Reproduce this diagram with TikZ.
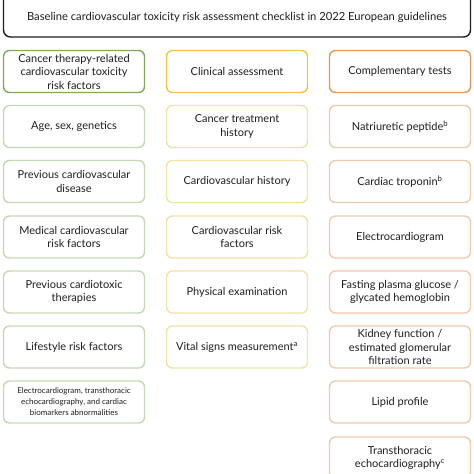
\documentclass[tikz,border=0pt]{standalone}
\usepackage{fontspec}
\setmainfont{Lato}
\usetikzlibrary{positioning}
\definecolor{chkInk}{HTML}{1E1E1E}
\definecolor{chkGreen}{HTML}{82A95A}
\definecolor{chkGreenLight}{HTML}{C6D8B3}
\definecolor{chkGold}{HTML}{F0C548}
\definecolor{chkGoldLight}{HTML}{F3E2A6}
\definecolor{chkOrange}{HTML}{E2975A}
\definecolor{chkOrangeLight}{HTML}{EFCBAD}
\tikzset{
  chkRisk/.style={draw=chkGreenLight},
  chkRiskHead/.style={draw=chkGreen},
  chkClinic/.style={draw=chkGoldLight},
  chkClinicHead/.style={draw=chkGold},
  chkTest/.style={draw=chkOrangeLight},
  chkTestHead/.style={draw=chkOrange}
}

\begin{document}
\begin{tikzpicture}[x=1pt,y=-1pt,
  box/.style={rounded corners=6pt,align=center,minimum width=141pt,
    minimum height=42pt,line width=1.4pt,font=\fontsize{11}{13.5}\selectfont,
    text=chkInk,inner sep=2pt},
  title/.style={draw=chkInk,rounded corners=7pt,line width=1.4pt,
    minimum width=467pt,minimum height=44pt,text=chkInk}]
\useasboundingbox (0,0) rectangle (474,474);
\node[title] (head) at (237,15) {};
\node[text=chkInk,font=\fontsize{11.2}{13}\selectfont] (headtext) at (237,17)
  {Baseline cardiovascular toxicity risk assessment checklist in 2022 European guidelines};
% risk factors
\node[box,chkRiskHead] (risk) at (74,71.5)
  {Cancer therapy-related\\cardiovascular toxicity\\risk factors};
\node[box,chkRisk] (age) at (74,126.5) {Age, sex, genetics};
\node[box,chkRisk] (prevcv) at (74,181.5) {Previous cardiovascular\\disease};
\node[box,chkRisk] (medcv) at (74,237) {Medical cardiovascular\\risk factors};
\node[box,chkRisk] (prevtox) at (74,292) {Previous cardiotoxic\\therapies};
\node[box,chkRisk] (life) at (74,347) {Lifestyle risk factors};
\node[box,chkRisk,font=\fontsize{8}{11}\selectfont] (abnorm) at (74,402)
  {Electrocardiogram, transthoracic\\echocardiography, and cardiac\\biomarkers abnormalities};
% clinical assessment
\node[box,chkClinicHead] (clinic) at (237,71.5) {Clinical assessment};
\node[box,chkClinic] (treat) at (237,126.5) {Cancer treatment\\history};
\node[box,chkClinic] (cvhist) at (237,181.5) {Cardiovascular history};
\node[box,chkClinic] (cvrisk) at (237,237) {Cardiovascular risk\\factors};
\node[box,chkClinic] (exam) at (237,292) {Physical examination};
\node[box,chkClinic] (vital) at (237,347) {Vital signs measurement\textsuperscript{a}};
% complementary tests
\node[box,chkTestHead] (tests) at (400,71.5) {Complementary tests};
\node[box,chkTest] (natri) at (400,126.5) {Natriuretic peptide\textsuperscript{b}};
\node[box,chkTest] (tropo) at (400,181.5) {Cardiac troponin\textsuperscript{b}};
\node[box,chkTest] (ecg) at (400,237) {Electrocardiogram};
\node[box,chkTest] (gluc) at (400,292) {Fasting plasma glucose /\\glycated hemoglobin};
\node[box,chkTest] (kidney) at (400,347)
  {Kidney function /\\estimated glomerular\\filtration rate};
\node[box,chkTest] (lipid) at (400,402) {Lipid profile};
\node[box,chkTest] (echo) at (400,458) {Transthoracic\\echocardiography\textsuperscript{c}};
\end{tikzpicture}
\end{document}
